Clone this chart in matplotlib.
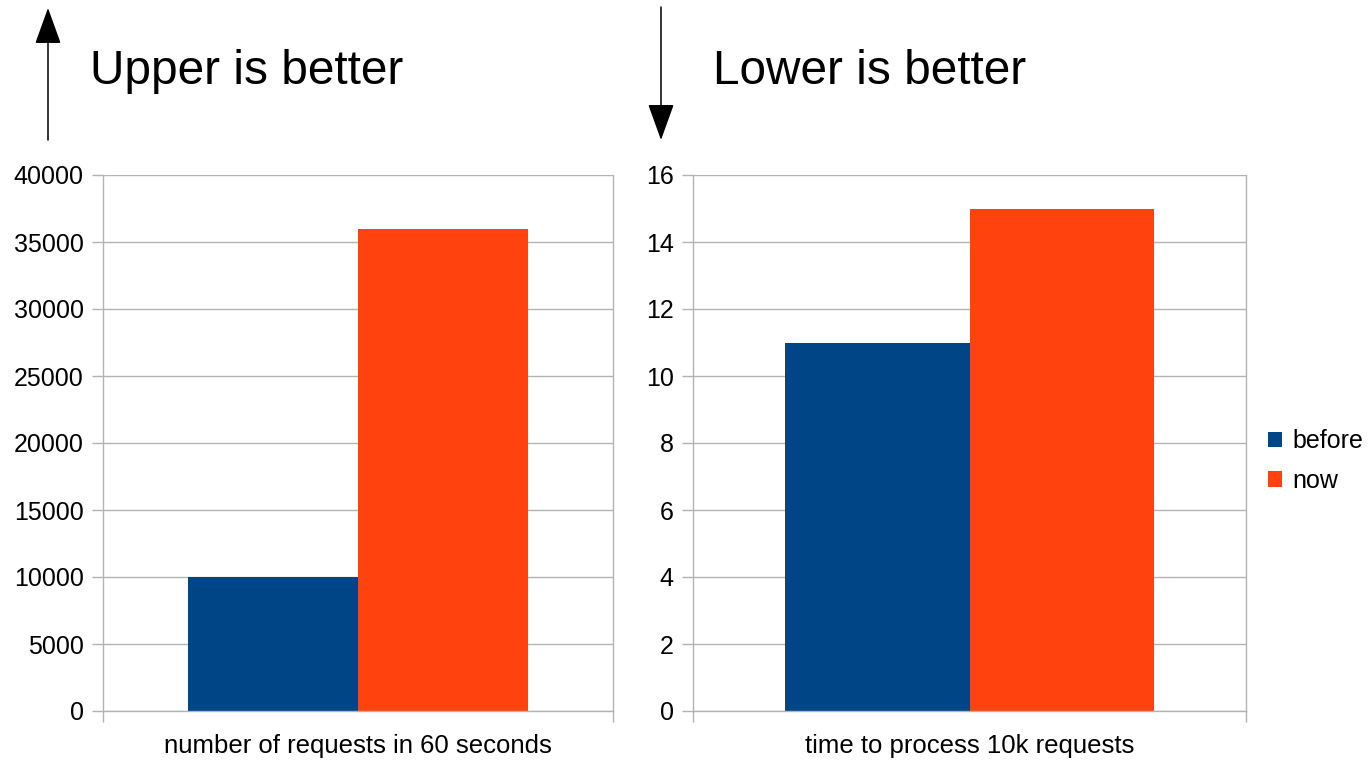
import matplotlib.pyplot as plt
from matplotlib.patches import FancyArrowPatch, Patch

plt.rcParams['font.family'] = ['Liberation Sans', 'DejaVu Sans']

# ---------- data ----------
series = ["before", "now"]
colors = ["#004586", "#ff420e"]

left_label = "number of requests in 60 seconds"
left_values = [10000, 36000]
left_ticks = list(range(0, 40001, 5000))

right_label = "time to process 10k requests"
right_values = [11, 15]
right_ticks = list(range(0, 17, 2))

W, H = 1370, 762
fig = plt.figure(figsize=(W / 100, H / 100), dpi=100)

grid_c = "#b3b3b3"


def make_axes(rect_px, values, ticks, label):
    x0, y0, x1, y1 = rect_px  # pixel box, y measured from top
    ax = fig.add_axes([x0 / W, (H - y1) / H, (x1 - x0) / W, (y1 - y0) / H])
    width = 1 / 3
    for i, (v, c) in enumerate(zip(values, colors)):
        ax.bar(-width / 2 + i * width, v, width=width, color=c, zorder=2)
    ax.set_xlim(-0.5, 0.5)
    ax.set_ylim(ticks[0], ticks[-1])
    ax.set_yticks(ticks)
    ax.set_xticks([-0.5, 0.5])
    ax.set_xticklabels([])
    ax.yaxis.grid(True, color=grid_c, lw=1, zorder=0)
    ax.set_axisbelow(True)
    for s in ["left", "right", "bottom"]:
        ax.spines[s].set_color(grid_c)
        ax.spines[s].set_linewidth(1)
    ax.spines["top"].set_visible(False)
    ax.tick_params(axis="y", length=8, width=1, color=grid_c, pad=6,
                   labelsize=18)
    ax.tick_params(axis="x", length=8, width=1, color=grid_c)
    fig.text((x0 + x1) / 2 / W, (H - 753) / H, label, ha="center",
             va="baseline", fontsize=18.5)
    return ax


ax1 = make_axes((103, 175, 613, 711), left_values, left_ticks, left_label)
ax2 = make_axes((693, 175, 1246, 711), right_values, right_ticks, right_label)

# direction arrows and headings
for (x, ya, yb) in [(48, 140, 8), (661, 7, 140)]:
    arr = FancyArrowPatch((x, H - ya), (x, H - yb), transform=None,
                          arrowstyle="-|>,head_length=23,head_width=8.3",
                          mutation_scale=1, lw=1.1, color="black",
                          shrinkA=0, shrinkB=0)
    fig.add_artist(arr)

fig.text(90 / W, (H - 84) / H, "Upper is better", fontsize=34.4,
         va="baseline", ha="left")
fig.text(713 / W, (H - 84) / H, "Lower is better", fontsize=34.4,
         va="baseline", ha="left")

handles = [Patch(facecolor=c, label=s) for s, c in zip(series, colors)]
fig.legend(handles=handles, loc="center left",
           bbox_to_anchor=(1268 / W, (H - 461) / H), frameon=False,
           fontsize=18, handlelength=0.56, handleheight=0.56,
           handletextpad=0.4, labelspacing=0.62, borderaxespad=0,
           borderpad=0)

fig.savefig("out.png", dpi=100)
